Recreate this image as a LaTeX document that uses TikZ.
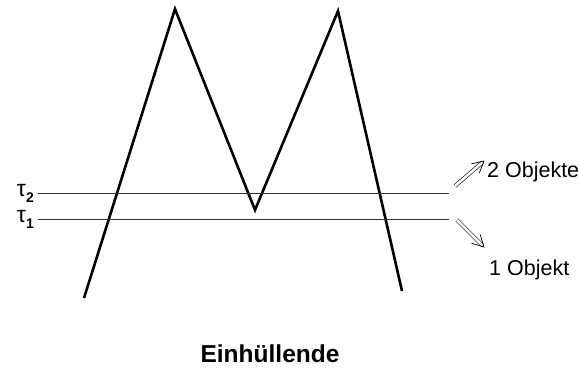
\documentclass[tikz,border=0pt]{standalone}
\usepackage{fontspec}
\setmainfont{Liberation Sans}
\usetikzlibrary{calc}

\begin{document}
\begin{tikzpicture}[x=1pt,y=-1pt,line join=miter]
  \tikzset{shaft/.style={double,double distance=2.6pt,line width=0.6pt,shorten >=2pt},
    barb/.style={line width=0.7pt}}
  \useasboundingbox (0,0) rectangle (579,369);
  % envelope
  \draw[line width=2.6pt] (84,298)--(175,9)--(255,210)--(338,11)--(402,291);
  % thresholds
  \draw[line width=0.8pt,black!80] (38,193) coordinate (t2a)--(449,193) coordinate (t2b);
  \draw[line width=0.8pt,black!80] (38,219) coordinate (t1a)--(449,219) coordinate (t1b);
  \node[left,inner sep=4pt] (tau2) at (t2a) {\fontsize{23}{24}\selectfont τ\raisebox{-6pt}{\fontsize{14}{15}\selectfont\bfseries 2}};
  \node[left,inner sep=4pt] (tau1) at (t1a) {\fontsize{23}{24}\selectfont τ\raisebox{-6pt}{\fontsize{14}{15}\selectfont\bfseries 1}};
  % results
  \node[right,inner sep=0pt,font=\fontsize{21.5}{24}\selectfont] (zwei) at (487,172) {2 Objekte};
  \node[right,inner sep=0pt,font=\fontsize{21.5}{24}\selectfont] (eins) at (489,270) {1 Objekt};
  \coordinate (u0) at (455,186); \coordinate (u1) at (484,161);
  \coordinate (d0) at (457,220); \coordinate (d1) at (484,247);
  \foreach \a/\b in {u0/u1,d0/d1} {
    \draw[shaft] (\a)--(\b);
    \draw[barb] ($(\b)!13pt!28:(\a)$)--(\b)--($(\b)!13pt!-28:(\a)$);
  }
  \node[font=\fontsize{24.5}{28}\selectfont\bfseries] (titel) at (270,354) {Einhüllende};
\end{tikzpicture}
\end{document}
